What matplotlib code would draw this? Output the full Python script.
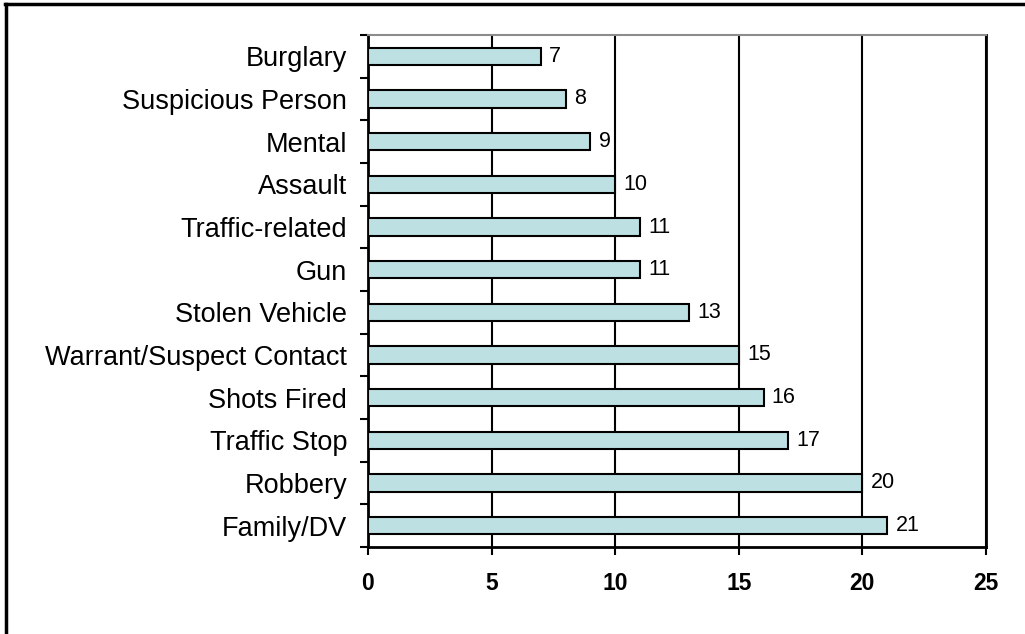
import matplotlib
matplotlib.use("Agg")
import matplotlib.pyplot as plt
from matplotlib.lines import Line2D

categories = ["Family/DV", "Robbery", "Traffic Stop", "Shots Fired",
              "Warrant/Suspect Contact", "Stolen Vehicle", "Gun",
              "Traffic-related", "Assault", "Mental", "Suspicious Person",
              "Burglary"]
counts = [21, 20, 17, 16, 15, 13, 11, 11, 10, 9, 8, 7]
x_ticks = [0, 5, 10, 15, 20, 25]

plt.rcParams["font.family"] = ["Liberation Sans", "DejaVu Sans"]

fig = plt.figure(figsize=(10.25, 6.34), dpi=100)
ax = fig.add_axes([368 / 1025, 87 / 634, 618 / 1025, 512 / 634])

pos = list(range(len(categories)))
ax.barh(pos, counts, height=0.4, color="#bde0e3", edgecolor="black",
        linewidth=1.5, zorder=3)
for p, v in zip(pos, counts):
    ax.annotate(str(v), (v, p), xytext=(6, 0), textcoords="offset points",
                va="center", ha="left", fontsize=15.5, zorder=4)

ax.set_xlim(0, 25)
ax.set_ylim(-0.5, len(categories) - 0.5)
ax.set_xticks(x_ticks)
ax.set_xticklabels([str(t) for t in x_ticks], fontsize=16.5, fontweight="bold")
ax.xaxis.grid(True, color="black", linewidth=1.5, zorder=1)
ax.tick_params(axis="x", direction="out", length=6, width=1.5, pad=12)

ax.set_yticks(pos)
ax.set_yticklabels(categories, fontsize=19.5)
ax.set_yticks([p - 0.5 for p in pos] + [len(categories) - 0.5], minor=True)
ax.tick_params(axis="y", which="major", length=0, pad=15)
ax.tick_params(axis="y", which="minor", direction="out", length=6, width=1.5)

for side in ("left", "bottom", "right"):
    ax.spines[side].set_color("black")
    ax.spines[side].set_linewidth(2)
ax.spines["top"].set_color("#8c8c8c")
ax.spines["top"].set_linewidth(1.5)

# outer chart frame
fig.add_artist(Line2D([5 / 1025, 1.0], [1 - 4 / 634, 1 - 4 / 634],
                      transform=fig.transFigure, color="black", linewidth=2.5))
fig.add_artist(Line2D([6 / 1025, 6 / 1025], [0, 1 - 4 / 634],
                      transform=fig.transFigure, color="black", linewidth=2.5))

fig.savefig("out.png", dpi=100)
